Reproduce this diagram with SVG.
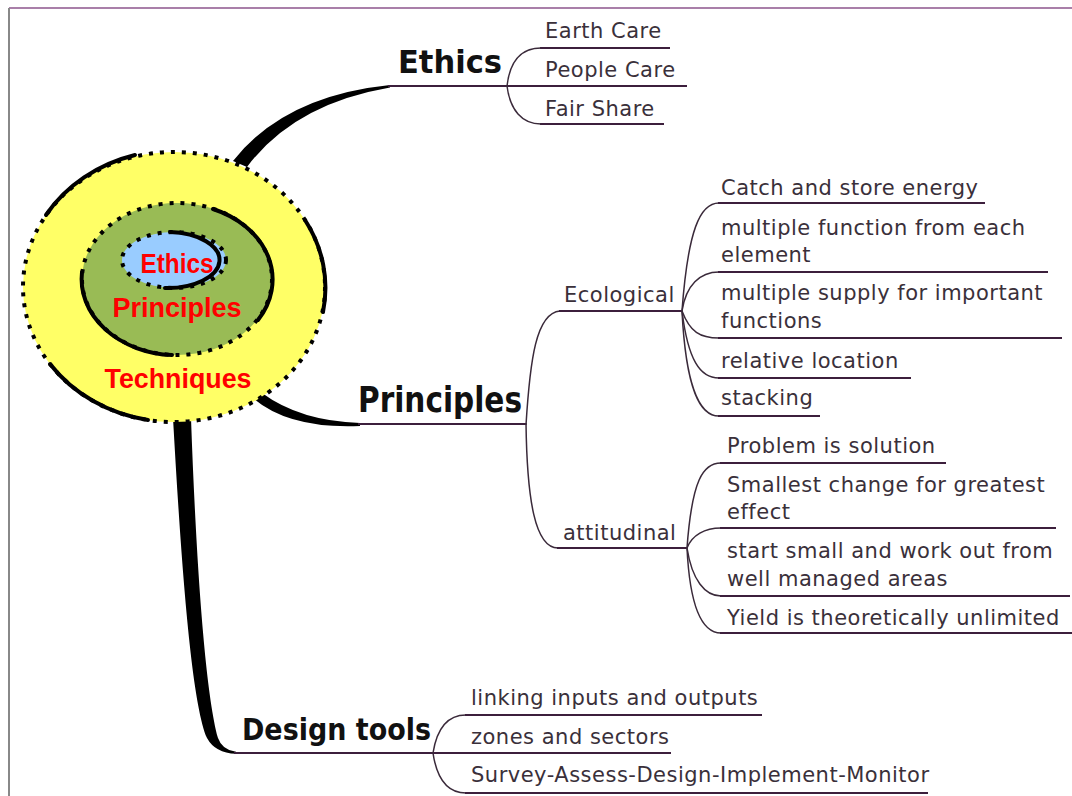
<svg xmlns="http://www.w3.org/2000/svg" width="1072" height="796" viewBox="0 0 1072 796">
<style>
.t{font-family:"DejaVu Sans","Verdana",sans-serif;font-size:21px;fill:#3a303a;letter-spacing:0.5px}
.big{font-family:"DejaVu Sans",sans-serif;font-weight:bold;fill:#111}
.ctr{font-family:"Liberation Sans",Arial,sans-serif;font-weight:bold;font-size:27px;fill:#ff0000;text-anchor:middle}
.ln{stroke:#3c1f3c;stroke-width:1.8;fill:none}
.cv{stroke:#3a2a3a;stroke-width:1.5;fill:none}
.dot{fill:none;stroke:#000;stroke-width:4;stroke-dasharray:4 7}
.sol{fill:none;stroke:#000;stroke-width:4;stroke-linecap:round}
</style>
<rect width="1072" height="796" fill="#fff"/>
<g id="frame">
<line x1="9" y1="8" x2="1072" y2="8" stroke="#a97fa9" stroke-width="2"/>
<line x1="9" y1="8" x2="9" y2="796" stroke="#888" stroke-width="2"/>
</g>
<g id="connectors">
<path d="M233,161 Q284,96 390,85 L390,87.5 Q294,104 247,167 Z" fill="#000"/>
<path d="M262,393 Q300,421 360,423 L360,426 Q290,429 254,399 Z" fill="#000"/>
<path d="M173,418 C181,560 191,700 207,738 Q215,753 236,753.8 L236,751.8 Q222,750 218,738 C205,690 196,560 191,418 Z" fill="#000"/>
<line class="ln" x1="388" y1="86" x2="507" y2="86"/>
<line class="ln" x1="540" y1="48" x2="670" y2="48"/>
<line class="ln" x1="507" y1="86" x2="687" y2="86"/>
<line class="ln" x1="540" y1="124" x2="664" y2="124"/>
<path class="cv" d="M507,86 C510,60 522,48 541,48"/>
<path class="cv" d="M507,86 C510,110 522,124 541,124"/>
<line class="ln" x1="358" y1="424" x2="526" y2="424"/>
<path class="cv" d="M526,425 C530,360 536,313 560,311"/>
<path class="cv" d="M526,423 C527,500 535,548 558,548"/>
<line class="ln" x1="559" y1="311" x2="682" y2="311"/>
<line class="ln" x1="557" y1="548" x2="687" y2="548"/>
<path class="cv" d="M682,311 C688,230 700,203 719,203"/>
<path class="cv" d="M682,311 C686,285 700,272 719,272"/>
<path class="cv" d="M682,311 C690,332 700,338 719,338"/>
<path class="cv" d="M682,311 C688,360 700,378 719,378"/>
<path class="cv" d="M682,311 C686,390 700,416 719,416"/>
<line class="ln" x1="718" y1="203" x2="985" y2="203"/>
<line class="ln" x1="718" y1="272" x2="1048" y2="272"/>
<line class="ln" x1="718" y1="338" x2="1062" y2="338"/>
<line class="ln" x1="718" y1="378" x2="911" y2="378"/>
<line class="ln" x1="718" y1="416" x2="820" y2="416"/>
<path class="cv" d="M687,548 C692,480 703,463 721,463"/>
<path class="cv" d="M687,548 C692,535 705,528 721,528"/>
<path class="cv" d="M687,548 C692,580 705,596 721,596"/>
<path class="cv" d="M687,548 C690,610 703,633 721,633"/>
<line class="ln" x1="720" y1="463" x2="946" y2="463"/>
<line class="ln" x1="720" y1="528" x2="1056" y2="528"/>
<line class="ln" x1="720" y1="596" x2="1070" y2="596"/>
<line class="ln" x1="720" y1="633" x2="1072" y2="633"/>
<line class="ln" x1="234" y1="753" x2="433" y2="753"/>
<line class="ln" x1="433" y1="753" x2="671" y2="753"/>
<path class="cv" d="M433,753 C437,728 448,715 466,715"/>
<path class="cv" d="M433,753 C437,780 448,793 466,793"/>
<line class="ln" x1="465" y1="715" x2="762" y2="715"/>
<line class="ln" x1="465" y1="793" x2="928" y2="793"/>
</g>
<g id="center">
<ellipse cx="174" cy="287" rx="151" ry="135" fill="#ffff66"/>
<ellipse class="dot" cx="174" cy="287" rx="151" ry="135"/>
<path class="sol" d="M46,215 A151,135 0 0 1 135,155"/>
<path class="sol" d="M305,220 A151,135 0 0 1 323,312"/>
<path class="sol" d="M50,364 A151,135 0 0 0 148,420"/>
<ellipse cx="177" cy="279" rx="95" ry="76" fill="#99bb55"/>
<ellipse class="dot" cx="177" cy="279" rx="95" ry="76"/>
<path class="sol" d="M213,209 A95,76 0 0 1 258,320"/>
<path class="sol" d="M82,272 A95,76 0 0 0 172,355"/>
<ellipse cx="174" cy="260" rx="52" ry="28" fill="#99ccff"/>
<ellipse class="dot" cx="174" cy="260" rx="52" ry="28" stroke-width="3.5"/>
<path class="sol" d="M170,232 A52,28 0 0 1 165,288" stroke-width="3.5"/>
<text class="ctr" x="177" y="273" textLength="73" lengthAdjust="spacingAndGlyphs">Ethics</text>
<text class="ctr" x="177" y="317" textLength="129" lengthAdjust="spacingAndGlyphs">Principles</text>
<text class="ctr" x="178" y="388" textLength="147" lengthAdjust="spacingAndGlyphs">Techniques</text>
</g>
<g id="ethics">
<text class="big" x="398" y="73" font-size="32" textLength="104" lengthAdjust="spacingAndGlyphs">Ethics</text>
</g>
<g id="earth-care"><text class="t" x="545" y="38">Earth Care</text></g>
<g id="people-care"><text class="t" x="545" y="77">People Care</text></g>
<g id="fair-share"><text class="t" x="545" y="116">Fair Share</text></g>
<g id="principles">
<text class="big" x="358" y="412" font-size="35" textLength="164" lengthAdjust="spacingAndGlyphs">Principles</text>
</g>
<g id="ecological"><text class="t" x="564" y="302">Ecological</text></g>
<g id="catch"><text class="t" x="721" y="195">Catch and store energy</text></g>
<g id="multi-function"><text class="t" x="721" y="235">multiple function from each</text><text class="t" x="721" y="262">element</text></g>
<g id="multi-supply"><text class="t" x="721" y="300">multiple supply for important</text><text class="t" x="721" y="328">functions</text></g>
<g id="relative"><text class="t" x="721" y="368">relative location</text></g>
<g id="stacking"><text class="t" x="721" y="405">stacking</text></g>
<g id="attitudinal"><text class="t" x="563" y="540">attitudinal</text></g>
<g id="problem"><text class="t" x="727" y="453">Problem is solution</text></g>
<g id="smallest"><text class="t" x="727" y="492">Smallest change for greatest</text><text class="t" x="727" y="519">effect</text></g>
<g id="start-small"><text class="t" x="727" y="558">start small and work out from</text><text class="t" x="727" y="586">well managed areas</text></g>
<g id="yield"><text class="t" x="727" y="625">Yield is theoretically unlimited</text></g>
<g id="design-tools">
<text class="big" x="242" y="740" font-size="30" textLength="189" lengthAdjust="spacingAndGlyphs">Design tools</text>
</g>
<g id="linking"><text class="t" x="471" y="705">linking inputs and outputs</text></g>
<g id="zones"><text class="t" x="471" y="744">zones and sectors</text></g>
<g id="survey"><text class="t" x="471" y="782">Survey-Assess-Design-Implement-Monitor</text></g>
</svg>
